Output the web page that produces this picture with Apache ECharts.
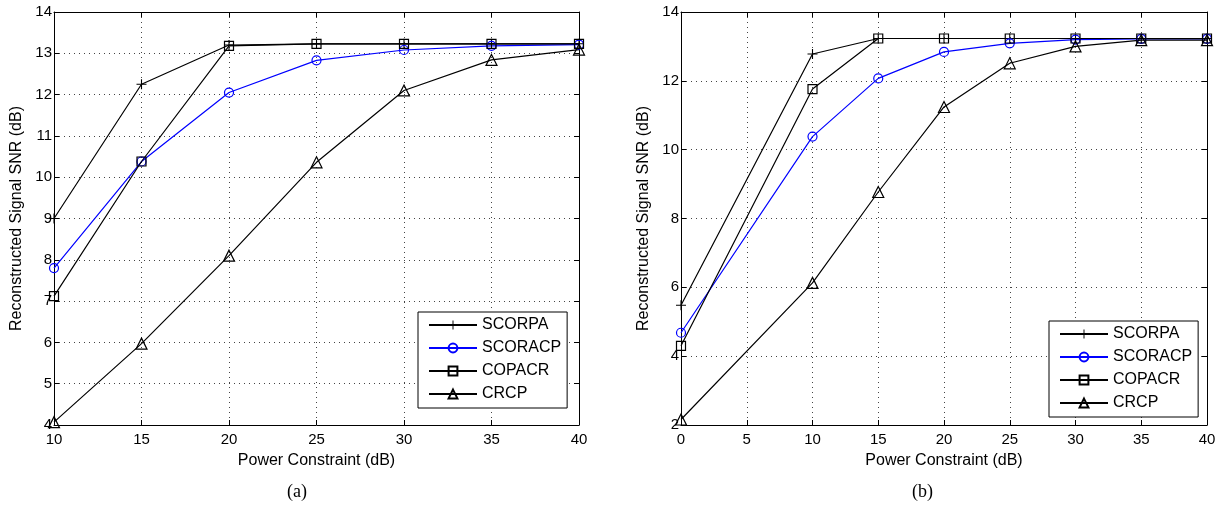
<!DOCTYPE html>
<html>
<head>
<meta charset="utf-8">
<script src="https://cdn.jsdelivr.net/npm/echarts@6/dist/echarts.min.js"></script>
<style>html,body{margin:0;padding:0;background:#fff}#c{width:1225px;height:521px}</style>
</head>
<body>
<div id="c"></div>
<script>
// ---- data ----
var seriesNames = ['SCORPA', 'SCORACP', 'COPACR', 'CRCP'];
// panel (a)
var xA = [10, 15, 20, 25, 30, 35, 40];
var scorpaA  = [9.0, 12.25, 13.2, 13.23, 13.23, 13.23, 13.23];
var scoracpA = [7.8, 10.38, 12.05, 12.83, 13.08, 13.18, 13.21];
var copacrA  = [7.12, 10.38, 13.18, 13.23, 13.23, 13.23, 13.23];
var crcpA    = [4.07, 5.97, 8.1, 10.36, 12.1, 12.84, 13.09];
// panel (b)
var xB = [0, 10, 15, 20, 25, 30, 35, 40];
var scorpaB  = [5.48, 12.78, 13.23, 13.23, 13.23, 13.23, 13.23, 13.23];
var scoracpB = [4.68, 10.38, 12.07, 12.84, 13.09, 13.2, 13.22, 13.22];
var copacrB  = [4.3, 11.76, 13.23, 13.23, 13.23, 13.23, 13.23, 13.23];
var crcpB    = [2.16, 6.13, 8.77, 11.24, 12.51, 13.0, 13.18, 13.18];
// axis ticks
var xTicksA = {min: 10, max: 40, interval: 5};
var yTicksA = {min: 4, max: 14, interval: 1};
var xTicksB = {min: 0, max: 40, interval: 5};
var yTicksB = {min: 2, max: 14, interval: 2};

var FONT = 'Liberation Sans, Arial, sans-serif';
var plusPath = 'path://M4.45,0L5.55,0L5.55,4.45L10,4.45L10,5.55L5.55,5.55L5.55,10L4.45,10L4.45,5.55L0,5.55L0,4.45L4.45,4.45Z';
var styles = {
  'SCORPA':  {color: '#000', symbol: plusPath, size: 10, fill: '#000', bw: 0},
  'SCORACP': {color: '#0000ff', symbol: 'circle', size: 9, fill: 'rgba(0,0,0,0)', bw: 1.2},
  'COPACR':  {color: '#000', symbol: 'rect', size: 9, fill: 'rgba(0,0,0,0)', bw: 1.2},
  'CRCP':    {color: '#000', symbol: 'triangle', size: 11, fill: 'rgba(0,0,0,0)', bw: 1.2}
};

function zip(xs, ys) { return xs.map(function (x, i) { return [x, ys[i]]; }); }

function mkSeries(name, xs, ys, idx) {
  var s = styles[name];
  return {
    name: name, type: 'line', xAxisIndex: idx, yAxisIndex: idx,
    data: zip(xs, ys),
    symbol: s.symbol, symbolSize: s.size, showAllSymbol: true,
    lineStyle: {color: s.color, width: 1.2},
    itemStyle: {color: s.fill, borderColor: s.color, borderWidth: s.bw},
    emphasis: {disabled: true},
    animation: false, z: 3
  };
}

function mainX(gi, t) {
  return {
    type: 'value', gridIndex: gi, min: t.min, max: t.max, interval: t.interval,
    position: 'bottom',
    name: 'Power Constraint (dB)', nameLocation: 'middle', nameGap: 28,
    nameTextStyle: {fontFamily: FONT, fontSize: 16, color: '#000'},
    axisLine: {show: true, onZero: false, lineStyle: {color: '#000', width: 1}},
    axisTick: {show: true, inside: true, length: 5, lineStyle: {color: '#000'}},
    axisLabel: {fontFamily: FONT, fontSize: 15, color: '#000', margin: 7},
    splitLine: {show: true, lineStyle: {color: '#444', width: 1, type: [1, 4]}}
  };
}
function topX(gi, t) {
  return {
    type: 'value', gridIndex: gi, min: t.min, max: t.max, interval: t.interval,
    position: 'top',
    axisLine: {show: true, onZero: false, lineStyle: {color: '#000', width: 1}},
    axisTick: {show: true, inside: true, length: 5, lineStyle: {color: '#000'}},
    axisLabel: {show: false}, splitLine: {show: false}
  };
}
function mainY(gi, t) {
  return {
    type: 'value', gridIndex: gi, min: t.min, max: t.max, interval: t.interval,
    position: 'left',
    name: 'Reconstructed Signal SNR (dB)', nameLocation: 'middle', nameGap: 29,
    nameTextStyle: {fontFamily: FONT, fontSize: 16, color: '#000'},
    axisLine: {show: true, onZero: false, lineStyle: {color: '#000', width: 1}},
    axisTick: {show: true, inside: true, length: 5, lineStyle: {color: '#000'}},
    axisLabel: {fontFamily: FONT, fontSize: 15, color: '#000', margin: 2},
    splitLine: {show: true, lineStyle: {color: '#444', width: 1, type: [1, 4]}}
  };
}
function rightY(gi, t) {
  return {
    type: 'value', gridIndex: gi, min: t.min, max: t.max, interval: t.interval,
    position: 'right',
    axisLine: {show: true, onZero: false, lineStyle: {color: '#000', width: 1}},
    axisTick: {show: true, inside: true, length: 5, lineStyle: {color: '#000'}},
    axisLabel: {show: false}, splitLine: {show: false}
  };
}

var seriesA = [scorpaA, scoracpA, copacrA, crcpA];
var seriesB = [scorpaB, scoracpB, copacrB, crcpB];
var series = [];
seriesNames.forEach(function (n, i) { series.push(mkSeries(n, xA, seriesA[i], 0)); });
seriesNames.forEach(function (n, i) { series.push(mkSeries(n, xB, seriesB[i], 1)); });

function mkLegend(left, top) {
  return {
    data: seriesNames, left: left, top: top, orient: 'vertical',
    backgroundColor: '#fff', borderColor: '#000', borderWidth: 1,
    padding: [5, 6, 6, 10], itemGap: 7, itemWidth: 48, itemHeight: 11,
    selectedMode: false,
    textStyle: {fontFamily: FONT, fontSize: 16, color: '#000', lineHeight: 16}
  };
}

var chart = echarts.init(document.getElementById('c'), null, {renderer: 'canvas'});
chart.setOption({
  backgroundColor: '#fff',
  animation: false,
  grid: [
    {left: 54, top: 12, width: 525, height: 413},
    {left: 681, top: 12, width: 526, height: 413}
  ],
  xAxis: [mainX(0, xTicksA), mainX(1, xTicksB), topX(0, xTicksA), topX(1, xTicksB)],
  yAxis: [mainY(0, yTicksA), mainY(1, yTicksB), rightY(0, yTicksA), rightY(1, yTicksB)],
  legend: [mkLegend(418, 312), mkLegend(1049, 321)],
  series: series,
  graphic: [
    {type: 'text', left: 287, top: 483, style: {text: '(a)', font: '18px "Liberation Serif", "Times New Roman", serif', fill: '#000'}},
    {type: 'text', left: 912, top: 483, style: {text: '(b)', font: '18px "Liberation Serif", "Times New Roman", serif', fill: '#000'}}
  ]
});
</script>
</body>
</html>
